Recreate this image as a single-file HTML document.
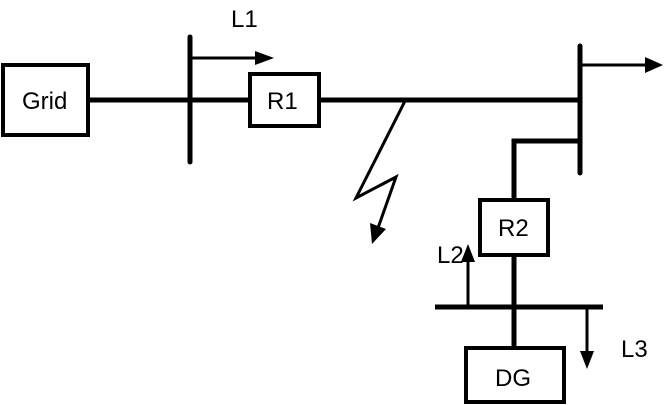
<!DOCTYPE html>
<html><head><style>html,body{margin:0;padding:0;background:#fff;}svg{display:block}
text{font-family:"Liberation Sans",Arial,sans-serif;font-size:24px;fill:#000;}</style></head>
<body>
<svg width="664" height="405" viewBox="0 0 664 405" xmlns="http://www.w3.org/2000/svg">
<g stroke="#000" fill="none">
<line x1="88" y1="100" x2="580" y2="100" stroke-width="5"/>
<line x1="190" y1="37" x2="190" y2="162" stroke-width="5" stroke-linecap="round"/>
<line x1="580" y1="46" x2="580" y2="173" stroke-width="5" stroke-linecap="round"/>
<line x1="192" y1="58" x2="258" y2="58" stroke-width="3"/>
<line x1="580" y1="65" x2="646" y2="65" stroke-width="3"/>
<polyline points="580,141 514,141 514,199" stroke-width="5"/>
<line x1="514" y1="255" x2="514" y2="347" stroke-width="5"/>
<line x1="435" y1="307" x2="603" y2="307" stroke-width="5"/>
<line x1="468" y1="307" x2="468" y2="260" stroke-width="3"/>
<line x1="587" y1="307" x2="587" y2="353" stroke-width="3"/>
<polyline points="405,101 356,198 396,177 378,228" stroke-width="3"/>
<rect x="3" y="65" width="85" height="70" stroke-width="4" fill="#fff"/>
<rect x="250" y="74" width="69" height="52" stroke-width="4" fill="#fff"/>
<rect x="480" y="200" width="68" height="55" stroke-width="4" fill="#fff"/>
<rect x="466" y="348" width="98" height="54" stroke-width="4" fill="#fff"/>
</g>
<g fill="#000">
<polygon points="274,58 255,51 255,65"/>
<polygon points="663,65 645,57 645,73"/>
<polygon points="468,244 461,262 475,262"/>
<polygon points="587,369 580,351 594,351"/>
<polygon points="372,244 370,223 386,229"/>
</g>
<text x="231" y="27">L1</text>
<text x="22" y="109">Grid</text>
<text x="267" y="109">R1</text>
<text x="498" y="236">R2</text>
<text x="437" y="263">L2</text>
<text x="621" y="357">L3</text>
<text x="495" y="386">DG</text>
</svg>
</body></html>
